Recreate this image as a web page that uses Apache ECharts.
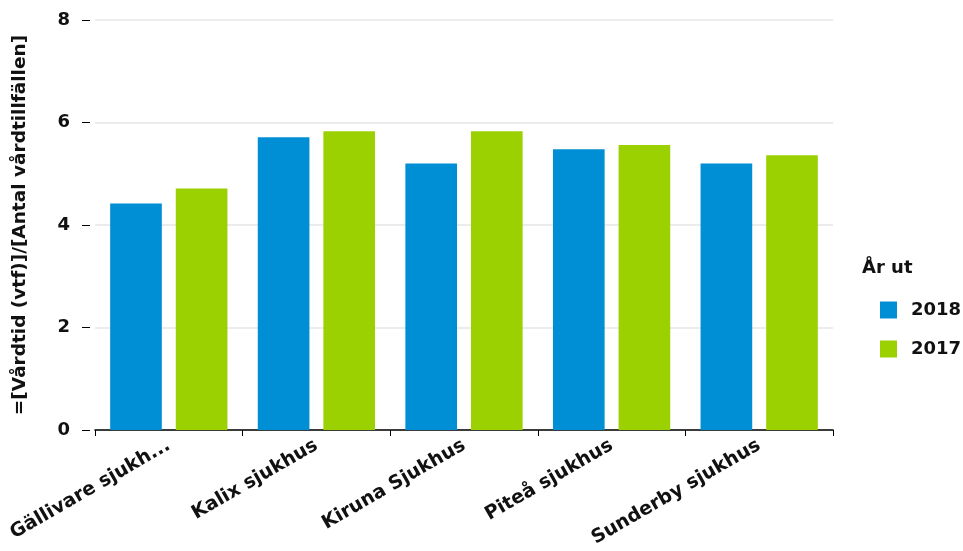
<!DOCTYPE html>
<html>
<head>
<meta charset="utf-8">
<script src="https://cdn.jsdelivr.net/npm/echarts@6/dist/echarts.min.js"></script>
<style>html,body{margin:0;padding:0;background:#fff}#c{width:963px;height:551px}</style>
</head>
<body>
<div id="c"></div>
<script>
const categories = ['Gällivare sjukhus', 'Kalix sjukhus', 'Kiruna Sjukhus', 'Piteå sjukhus', 'Sunderby sjukhus'];
const values2018 = [4.42, 5.71, 5.20, 5.48, 5.20];
const values2017 = [4.71, 5.83, 5.83, 5.56, 5.36];
const yTicks = [0, 2, 4, 6, 8];

const chart = echarts.init(document.getElementById('c'));
const font = 'DejaVu Sans';
chart.setOption({
  animation: false,
  title: {
    text: 'År ut', left: 857, top: 254,
    textStyle: { fontFamily: font, fontWeight: 'bold', fontSize: 18, color: '#111' }
  },
  legend: {
    orient: 'vertical', left: 875, top: 296,
    itemWidth: 17, itemHeight: 17, itemGap: 21,
    icon: 'rect',
    textStyle: { fontFamily: font, fontWeight: 'bold', fontSize: 18, color: '#111', padding: [0, 0, 0, 9] },
    data: ['2018', '2017']
  },
  grid: { left: 95, right: 130, top: 20, bottom: 121 },
  xAxis: {
    type: 'category',
    data: categories,
    axisLine: { lineStyle: { color: '#000', width: 1.5 } },
    axisTick: { show: true, length: 6, lineStyle: { color: '#000' } },
    axisLabel: {
      rotate: 30, interval: 0, margin: 14,
      fontFamily: font, fontWeight: 'bold', fontSize: 19, color: '#111',
      formatter: v => v.length > 16 ? v.slice(0, 15) + '...' : v
    }
  },
  yAxis: {
    type: 'value', min: 0, max: 8, interval: 2,
    offset: 5,
    name: '=[Vårdtid (vtf)]/[Antal vårdtillfällen]',
    nameLocation: 'middle', nameGap: 60,
    nameTextStyle: { fontFamily: font, fontWeight: 'bold', fontSize: 18.5, color: '#111' },
    axisLine: { show: false },
    axisTick: { show: true, length: 8, lineStyle: { color: '#000' } },
    axisLabel: {
      margin: 20, fontFamily: font, fontWeight: 'bold', fontSize: 18, color: '#111',
      formatter: v => yTicks.includes(v) ? String(v) : ''
    },
    splitLine: { lineStyle: { color: '#e6e6e6', width: 1.5 } }
  },
  series: [
    { name: '2018', type: 'bar', data: values2018, barWidth: '35%', barGap: '27%',
      itemStyle: { color: '#008fd5' } },
    { name: '2017', type: 'bar', data: values2017, barWidth: '35%',
      itemStyle: { color: '#9bd100' } }
  ]
});
</script>
</body>
</html>
